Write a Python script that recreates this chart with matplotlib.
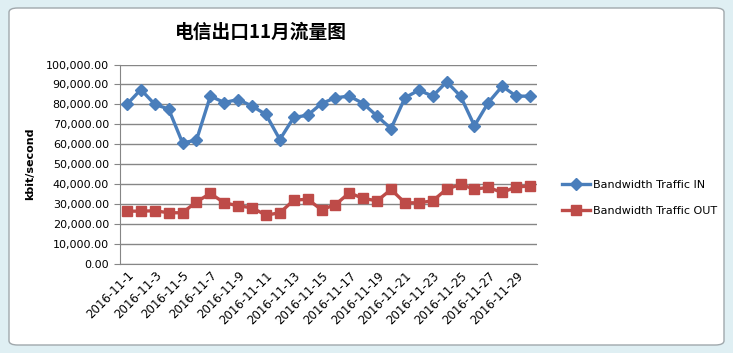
import matplotlib.pyplot as plt
from matplotlib.patches import FancyBboxPatch
from matplotlib.ticker import FuncFormatter

plt.rcParams['font.family'] = ['DejaVu Sans']

days = ['2016-11-' + str(d) for d in range(1, 31)]
traffic_in = [80000, 87400, 80000, 77600, 60600, 62000, 84100, 80900, 82400, 79100,
              74900, 62300, 73400, 74500, 80400, 83300, 84100, 80400, 74000, 67800,
              83300, 87100, 84100, 91300, 84100, 69200, 80900, 89100, 84100, 84100]
traffic_out = [26300, 26300, 26500, 25500, 25500, 31000, 35200, 30500, 29000, 28000,
               24300, 25500, 31800, 32300, 27000, 29600, 35500, 32700, 31500, 37200,
               30500, 30500, 31500, 37400, 39700, 37400, 38200, 35700, 38500, 38900]

fig = plt.figure(figsize=(7.33, 3.53), dpi=100)
fig.patch.set_facecolor('#dfeff3')

# chart frame
frame = FancyBboxPatch((9 / 733, 8 / 353), 715 / 733, 337 / 353,
                       boxstyle='round,pad=0,rounding_size=0.012',
                       transform=fig.transFigure, facecolor='white',
                       edgecolor='#a0a8ac', linewidth=1.0, zorder=-10)
fig.patches.append(frame)

ax = fig.add_axes([120 / 733, 1 - 263.5 / 353, 417 / 733, 199 / 353])
ax.set_zorder(2)
ax.set_facecolor('none')

x = list(range(len(days)))
ax.plot(x, traffic_in, color='#4a7ebb', linewidth=2.4, marker='D', markersize=6,
        label='Bandwidth Traffic IN', zorder=3)
ax.plot(x, traffic_out, color='#be4b48', linewidth=2.4, marker='s', markersize=7,
        label='Bandwidth Traffic OUT', zorder=3)

ax.set_xlim(-0.5, len(days) - 0.5)
ax.set_ylim(0, 100000)
ax.set_yticks(range(0, 100001, 10000))
ax.yaxis.set_major_formatter(FuncFormatter(lambda v, p: '{:,.2f}'.format(v)))
ax.set_xticks(x[::2])
ax.set_xticklabels(days[::2], rotation=45, ha='right', rotation_mode='anchor', fontsize=8.5)
ax.tick_params(axis='y', labelsize=8, length=4, color='#868686', pad=4)
ax.tick_params(axis='x', length=0, pad=4)

ax.grid(axis='y', color='#868686', linewidth=1.0)
ax.set_axisbelow(True)
for s in ['top', 'right']:
    ax.spines[s].set_visible(False)
for s in ['left', 'bottom']:
    ax.spines[s].set_color('#868686')

ax.set_ylabel('kbit/second', fontsize=8, fontweight='bold', labelpad=8)

fig.text(261 / 733, 1 - 32 / 353, '电信出口11月流量图', ha='center', va='center',
         fontsize=13.5, fontweight='bold', family=['Noto Sans CJK SC', 'DejaVu Sans'])

ax.legend(loc='center left', bbox_to_anchor=(552 / 733, 1 - 198 / 353),
          bbox_transform=fig.transFigure, frameon=False, fontsize=8,
          handlelength=2.5, labelspacing=1.4, handletextpad=0.3)

fig.savefig('out.png', dpi=100, facecolor=fig.get_facecolor())
